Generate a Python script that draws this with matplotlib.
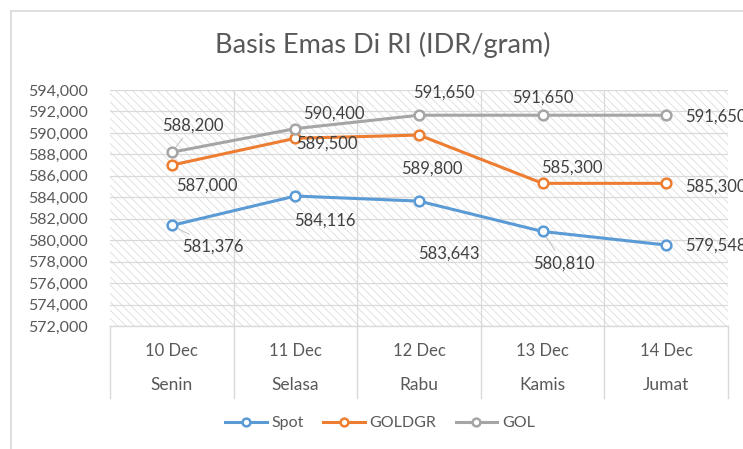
import matplotlib.pyplot as plt
from matplotlib.patches import Rectangle
from matplotlib.lines import Line2D

# data
dates = ['10 Dec', '11 Dec', '12 Dec', '13 Dec', '14 Dec']
days = ['Senin', 'Selasa', 'Rabu', 'Kamis', 'Jumat']
spot = [581376, 584116, 583643, 580810, 579548]
goldgr = [587000, 589500, 589800, 585300, 585300]
gol = [588200, 590400, 591650, 591650, 591650]
yticks = list(range(572000, 594001, 2000))

plt.rcParams['font.family'] = ['Lato', 'DejaVu Sans']
plt.rcParams['hatch.linewidth'] = 0.6
txt = '#595959'

fig = plt.figure(figsize=(7.43, 4.49), dpi=100)
ax = fig.add_axes([110 / 743, 1 - 326 / 449, 618 / 743, 236 / 449])

# chart border (top and left visible)
fig.add_artist(Line2D([11 / 743, 11 / 743], [0, 1 - 11 / 449], color='#D9D9D9', lw=1.2))
fig.add_artist(Line2D([11 / 743, 1], [1 - 11 / 449, 1 - 11 / 449], color='#D9D9D9', lw=1.2))

# hatched plot area
ax.add_patch(Rectangle((0, 0), 1, 1, transform=ax.transAxes, facecolor='white',
                       edgecolor='#DDDDDD', lw=0, hatch='\\\\\\\\', zorder=0))

x = list(range(len(days)))
series = [('Spot', spot, '#5B9BD5'), ('GOLDGR', goldgr, '#ED7D31'), ('GOL', gol, '#A5A5A5')]
for name, vals, col in series:
    ax.plot(x, vals, color=col, lw=2.2, marker='o', ms=7, mfc='white', mec=col, mew=1.8,
            label=name, zorder=3)

# data labels: offsets in pixels
offsets = {
    'GOL': [(21, 27), (38, 15), (25, 23), (0, 18), (19, -1)],
    'GOLDGR': [(35, -21), (31, -5), (13, -34), (29, 16), (19, -3)],
    'Spot': [(41, -21), (29, -25), (30, -53), (21, -32), (19, -1)],
}
leaders = {('GOL', 0), ('Spot', 0), ('Spot', 3)}
for name, vals, col in series:
    for i, v in enumerate(vals):
        dx, dy = offsets[name][i]
        ha = 'left' if i == 4 else 'center'
        ap = None
        if (name, i) in leaders:
            ap = dict(arrowstyle='-', color='#BFBFBF', lw=0.7, shrinkA=2, shrinkB=5)
        ax.annotate(f'{v:,}', xy=(i, v), xytext=(dx, dy), textcoords='offset pixels',
                    ha=ha, va='center', fontsize=12, color='#404040', arrowprops=ap,
                    annotation_clip=False, zorder=4)

ax.set_xlim(-0.5, 4.5)
ax.set_ylim(572000, 594000)
ax.set_yticks(yticks)
ax.set_yticklabels([f'{t:,}' for t in yticks])
ax.set_xticks([i + 0.5 for i in range(4)])
ax.set_xticklabels([])
ax.grid(True, color='#D9D9D9', lw=0.9, zorder=1)
ax.set_axisbelow(True)
ax.tick_params(length=0, labelsize=11.5, colors=txt, pad=16)
for s in ax.spines.values():
    s.set_visible(False)

# two-level category axis
for i in range(len(days)):
    ax.text(i, -25 / 236, dates[i], transform=ax.get_xaxis_transform(), ha='center',
            va='center', fontsize=12, color=txt)
    ax.text(i, -59 / 236, days[i], transform=ax.get_xaxis_transform(), ha='center',
            va='center', fontsize=12.5, color=txt)
for b in [-0.5, 0.5, 1.5, 2.5, 3.5, 4.5]:
    ax.plot([b, b], [0, -72 / 236], transform=ax.get_xaxis_transform(), color='#D9D9D9',
            lw=1, clip_on=False)
ax.plot([-0.5, 4.5], [0, 0], transform=ax.get_xaxis_transform(), color='#D9D9D9',
        lw=1, clip_on=False)

fig.text(383 / 743, 1 - 45 / 449, 'Basis Emas Di RI (IDR/gram)', ha='center', va='center',
         fontsize=19.5, color=txt)

fig.legend(loc='center', bbox_to_anchor=(380 / 743, 1 - 423 / 449), ncol=3, frameon=False,
           fontsize=11.5, labelcolor=txt, handlelength=2.6, columnspacing=1.2,
           handletextpad=0.3, markerscale=0.8)

fig.savefig('out.png', dpi=100)
